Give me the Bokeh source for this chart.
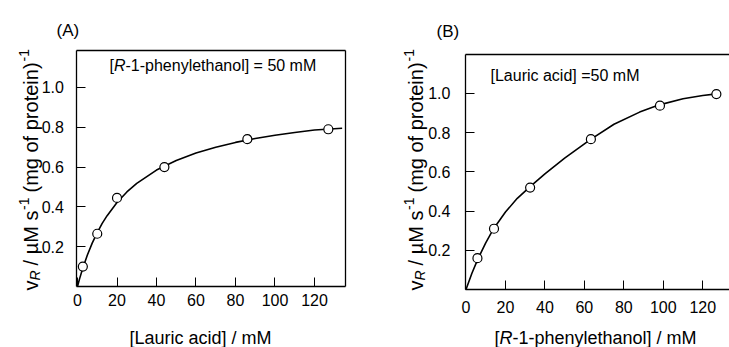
import math
from bokeh.plotting import figure
from bokeh.layouts import row
from bokeh.models import Label, FixedTicker, LinearAxis, Range1d
from bokeh.embed import file_html
from bokeh.resources import INLINE

# ---------------- data ----------------
# Panel A: rate vs [Lauric acid] at [R-1-phenylethanol] = 50 mM
a_pts_x = [2.7, 10, 20, 44, 86, 127]
a_pts_y = [0.10, 0.265, 0.445, 0.60, 0.74, 0.79]
a_fit_x = [0, 1, 2.5, 5, 7.5, 10, 12.5, 15, 20, 25, 30, 40, 50, 60, 70, 80, 90, 100, 110, 120, 134]
a_fit_y = [0, 0.037, 0.087, 0.158, 0.219, 0.271, 0.317, 0.356, 0.422, 0.475, 0.518, 0.585,
           0.633, 0.671, 0.70, 0.724, 0.744, 0.76, 0.774, 0.786, 0.795]

# Panel B: rate vs [R-1-phenylethanol] at [Lauric acid] = 50 mM
b_pts_x = [5.8, 14.2, 32.5, 63.3, 98.3, 126.9]
b_pts_y = [0.16, 0.31, 0.52, 0.767, 0.938, 0.997]
b_fit_x = [0, 3, 6, 10, 14, 20, 26, 32.5, 40, 50, 63, 75, 88, 98, 110, 120, 127, 129]
b_fit_y = [0, 0.083, 0.155, 0.238, 0.31, 0.395, 0.465, 0.525, 0.59, 0.67, 0.765, 0.843,
           0.905, 0.942, 0.973, 0.99, 0.998, 1.0]

x_ticks = [0, 20, 40, 60, 80, 100, 120]
y_ticks = [0.2, 0.4, 0.6, 0.8, 1.0]
y_tick_labels = {0.2: "0.2", 0.4: "0.4", 0.6: "0.6", 0.8: "0.8", 1.0: "1.0"}

FONT = "Liberation Sans"
TICK_FS = "16px"
LW = 1.3


def make_axis(fixed, bounds, ticks, standoff, overrides=None):
    ax = LinearAxis(fixed_location=fixed, bounds=bounds,
                    ticker=FixedTicker(ticks=ticks))
    ax.major_tick_in = 9
    ax.major_tick_out = 0
    ax.minor_tick_line_color = None
    ax.major_tick_line_color = "black" if ticks else None
    ax.major_tick_line_width = 1
    ax.axis_line_color = "black"
    ax.axis_line_width = LW
    ax.major_label_text_font = FONT
    ax.major_label_text_font_size = TICK_FS if ticks else "0px"
    ax.major_label_text_color = "black"
    ax.major_label_standoff = standoff
    if overrides:
        ax.major_label_overrides = overrides
    return ax


def add_text(p, x, y, text, size, italic=False, angle=0.0):
    p.add_layout(Label(x=x, y=y, x_units="screen", y_units="screen", text=text,
                       text_font=FONT, text_font_size=size,
                       text_font_style="italic" if italic else "normal",
                       text_color="black", angle=angle,
                       text_baseline="alphabetic", text_align="left"))


def add_ylabel(p, xb, y0):
    # vertical composite label: v_R / µM s^-1 (mg of protein)^-1
    a = math.pi / 2
    y = y0
    add_text(p, xb, y, "v", "20px", angle=a); y += 10.0
    add_text(p, xb + 4, y, "R", "14px", italic=True, angle=a); y += 10.1 + 5.0
    add_text(p, xb, y, "/ \u00b5M s", "20px", angle=a); y += 55.5
    add_text(p, xb - 7, y, "-1", "14px", angle=a); y += 12.4 + 5.0
    add_text(p, xb, y, "(mg of protein)", "20px", angle=a); y += 131.0
    add_text(p, xb - 7, y, "-1", "14px", angle=a)


def make_panel(width, xr, yr, box_x, box_y, right_edge):
    p = figure(width=width, height=347, output_backend="svg", toolbar_location=None,
               x_range=Range1d(*xr), y_range=Range1d(*yr),
               x_axis_location=None, y_axis_location=None, min_border=0,
               background_fill_color="white", border_fill_color="white")
    p.outline_line_color = None
    p.xgrid.visible = False
    p.ygrid.visible = False
    x0, x1 = box_x
    y0, y1 = box_y
    p.add_layout(make_axis(y0, (x0, x1), x_ticks, 0), "below")
    p.add_layout(make_axis(x0, (y0, y1), y_ticks, 0, y_tick_labels), "left")
    p.add_layout(make_axis(y1, (x0, x1), [], 0), "above")
    if right_edge:
        p.add_layout(make_axis(x1, (y0, y1), [], 0), "right")
    return p


# ---------------- panel A ----------------
pA = make_panel(364, (-38.99, 145.32), (-0.3065, 1.437), (-0.3, 135.7), (0, 1.188), True)
for ax in pA.below:
    ax.major_label_standoff = 8
for ax in pA.left:
    ax.major_label_standoff = 13
pA.line(a_fit_x, a_fit_y, line_color="black", line_width=1.6)
pA.scatter(a_pts_x, a_pts_y, marker="circle", size=9, fill_color="white",
           line_color="black", line_width=1.2)
add_text(pA, 56, 317, "(A)", "17px")
add_text(pA, 109, 282, "[", "16px")
add_text(pA, 113.4, 282, "R", "16px", italic=True)
add_text(pA, 125, 282, "-1-phenylethanol] = 50 mM", "16px")
add_text(pA, 129, 10, "[Lauric acid] / mM", "18px")
add_ylabel(pA, 30, 57)

# ---------------- panel B ----------------
pB = make_panel(365, (-51.44, 133.55), (-0.296, 1.4745), (-0.3, 133.55), (0, 1.199), False)
for ax in pB.below:
    ax.major_label_standoff = 12
for ax in pB.left:
    ax.major_label_standoff = 15
pB.line(b_fit_x, b_fit_y, line_color="black", line_width=1.6)
pB.scatter(b_pts_x, b_pts_y, marker="circle", size=9, fill_color="white",
           line_color="black", line_width=1.2)
add_text(pB, 72, 316, "(B)", "17px")
add_text(pB, 126, 272, "[Lauric acid] =50 mM", "16px")
add_text(pB, 130, 10, "[", "18px")
add_text(pB, 135, 10, "R", "18px", italic=True)
add_text(pB, 148, 10, "-1-phenylethanol] / mM", "18px")
add_ylabel(pB, 51, 57)

layout = row(pA, pB)
open("out.html", "w").write(file_html(layout, INLINE))
